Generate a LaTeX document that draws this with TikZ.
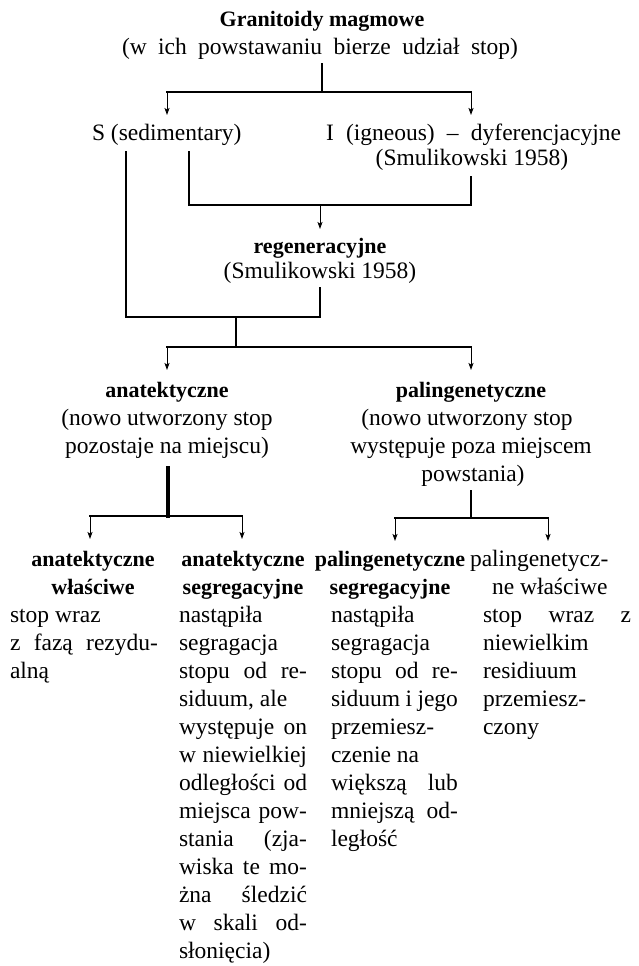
\documentclass[tikz,border=0pt]{standalone}
\usepackage{fontspec}
\setmainfont{Liberation Serif}
\usetikzlibrary{arrows.meta}
\newcommand{\jtext}[5]{\node[txt, anchor=base west] (#1) at (#2,#3) {\makebox[#4pt][s]{#5}};}
\newcommand{\ltext}[4]{\node[txt, anchor=base west] (#1) at (#2,#3) {#4};}
\begin{document}
\begin{tikzpicture}[x=1pt,y=-1pt,
  txt/.style={inner sep=0pt, outer sep=0pt, font=\fontsize{23.5pt}{28pt}\selectfont},
  bld/.style={inner sep=0pt, outer sep=0pt, font=\fontsize{22pt}{28pt}\selectfont\bfseries},
  conn/.style={line width=2.4pt, line cap=rect},
  thk/.style={line width=3.2pt, line cap=rect},
  arr/.style={line width=1pt, -{Stealth[length=7pt,width=5pt,inset=1.5pt]}}]
\fill[white] (0,0) rectangle (639,966);
\useasboundingbox (0,0) rectangle (639,966);

% top
\node[bld, anchor=base] (tit) at (322,27) {Granitoidy magmowe};
\node[txt, anchor=base] (sub) at (320,55) {\makebox[396pt][s]{(w ich powstawaniu bierze udział stop)}};
\coordinate (c0) at (322,64);
\coordinate (c1) at (322,92);
\coordinate (cL) at (167,92);
\coordinate (cR) at (471,92);
\coordinate (aS) at (167,115);
\coordinate (aI) at (471,115);
\draw[conn] (c0) -- (c1);
\draw[conn] (cL) -- (cR);
\draw[arr] (cL) -- (aS);
\draw[arr] (cR) -- (aI);

\node[txt, anchor=base west] (S) at (92,140) {S (sedimentary)};
\node[txt, anchor=base west] (I) at (326,140) {\makebox[295pt][s]{I (igneous) – dyferencjacyjne}};
\node[txt, anchor=base] (Ism) at (472,165) {(Smulikowski 1958)};

\coordinate (s1) at (126,152);
\coordinate (s1b) at (126,317);
\coordinate (s2) at (189,152);
\coordinate (s2b) at (189,205);
\coordinate (i1) at (471,177);
\coordinate (i1b) at (471,205);
\coordinate (r0) at (320,205);
\coordinate (rA) at (320,229);
\draw[conn] (s2) -- (s2b) -- (i1b) -- (i1);
\draw[arr] (r0) -- (rA);

\node[bld, anchor=base] (reg) at (320,253) {regeneracyjne};
\node[txt, anchor=base] (regs) at (320,278) {(Smulikowski 1958)};

\coordinate (g0) at (320,288);
\coordinate (g1) at (320,317);
\coordinate (m0) at (236,317);
\coordinate (m1) at (236,347);
\coordinate (mL) at (167,347);
\coordinate (mR) at (471,347);
\coordinate (aA) at (167,370);
\coordinate (aP) at (471,370);
\draw[conn] (s1) -- (s1b) -- (g1) -- (g0);
\draw[conn] (m0) -- (m1);
\draw[conn] (mL) -- (mR);
\draw[arr] (mL) -- (aA);
\draw[arr] (mR) -- (aP);

% middle
\node[bld, anchor=base] (an) at (167,397) {anatektyczne};
\node[txt, anchor=base] (an2) at (167,425) {(nowo utworzony stop};
\node[txt, anchor=base] (an3) at (167,453) {pozostaje na miejscu)};
\node[bld, anchor=base] (pa) at (471,397) {palingenetyczne};
\node[txt, anchor=base] (pa2) at (467,425) {(nowo utworzony stop};
\node[txt, anchor=base] (pa3) at (471,453) {występuje poza miejscem};
\node[txt, anchor=base] (pa4) at (473,481) {powstania)};

\coordinate (u0) at (168,468);
\coordinate (u1) at (168,516);
\coordinate (uL) at (90,516);
\coordinate (uR) at (242,516);
\coordinate (b1) at (90,539);
\coordinate (b2) at (242,539);
\draw[thk] (u0) -- (u1);
\draw[conn] (uL) -- (uR);
\draw[arr] (uL) -- (b1);
\draw[arr] (uR) -- (b2);

\coordinate (v0) at (471,491);
\coordinate (v1) at (471,518);
\coordinate (vL) at (395,518);
\coordinate (vR) at (548,518);
\coordinate (b3) at (395,541);
\coordinate (b4) at (548,541);
\draw[conn] (v0) -- (v1);
\draw[conn] (vL) -- (vR);
\draw[arr] (vL) -- (b3);
\draw[arr] (vR) -- (b4);

% bottom column 1
\node[bld, anchor=base] (k1a) at (93,566) {anatektyczne};
\node[bld, anchor=base] (k1b) at (93,594) {właściwe};
\ltext{k1c}{10}{622}{stop wraz}
\jtext{k1d}{10}{650}{148}{z fazą rezydu-}
\ltext{k1e}{10}{678}{alną}

% bottom column 2
\node[bld, anchor=base] (k2a) at (243,566) {anatektyczne};
\node[bld, anchor=base] (k2b) at (243,594) {segregacyjne};
\ltext{k2c}{179}{622}{nastąpiła}
\ltext{k2d}{179}{650}{segragacja}
\jtext{k2e}{179}{678}{128}{stopu od re-}
\ltext{k2f}{179}{706}{siduum, ale}
\jtext{k2g}{179}{734}{128}{występuje on}
\jtext{k2h}{179}{762}{128}{w niewielkiej}
\jtext{k2i}{179}{790}{128}{odległości od}
\jtext{k2j}{179}{818}{128}{miejsca pow-}
\jtext{k2k}{179}{846}{128}{stania (zja-}
\jtext{k2l}{179}{874}{128}{wiska te mo-}
\jtext{k2m}{179}{902}{128}{żna śledzić}
\jtext{k2n}{179}{930}{128}{w skali od-}
\ltext{k2o}{179}{958}{słonięcia)}

% bottom column 3
\node[bld, anchor=base] (k3a) at (390,566) {palingenetyczne};
\node[bld, anchor=base] (k3b) at (390,594) {segregacyjne};
\ltext{k3c}{331}{622}{nastąpiła}
\ltext{k3d}{331}{650}{segragacja}
\jtext{k3e}{331}{678}{127}{stopu od re-}
\jtext{k3f}{331}{706}{127}{siduum i jego}
\ltext{k3g}{331}{734}{przemiesz-}
\ltext{k3h}{331}{762}{czenie na}
\jtext{k3i}{331}{790}{127}{większą lub}
\jtext{k3j}{331}{818}{127}{mniejszą od-}
\ltext{k3k}{331}{846}{ległość}

% bottom column 4
\ltext{k4a}{470}{566}{palingenetycz-}
\ltext{k4b}{492}{594}{ne właściwe}
\jtext{k4c}{483}{622}{148}{stop wraz z}
\ltext{k4d}{483}{650}{niewielkim}
\ltext{k4e}{483}{678}{residiuum}
\ltext{k4f}{483}{706}{przemiesz-}
\ltext{k4g}{483}{734}{czony}
\end{tikzpicture}
\end{document}
